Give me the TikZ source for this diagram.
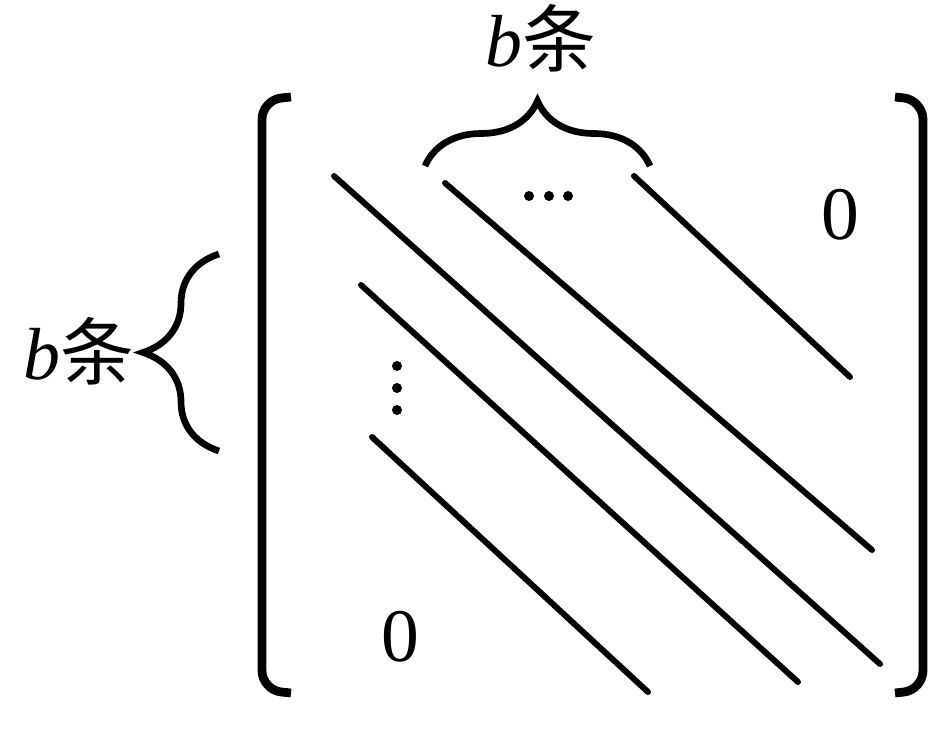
\documentclass[tikz,border=0pt]{standalone}
\usepackage{fontspec}
\setmainfont{Liberation Serif}
\newfontfamily\cjk{Noto Sans CJK SC}
\usetikzlibrary{positioning,decorations.pathreplacing}

\begin{document}
\begin{tikzpicture}[x=0.02cm, y=-0.02cm,
    band/.style={line width=3.4pt, line cap=round},
    bracket/.style={line width=5pt, rounded corners=11pt},
    countbrace/.style={decorate, decoration={brace, amplitude=#1}, line width=3.8pt},
    lbl/.style={font=\fontsize{42}{42}\selectfont, inner sep=0pt, anchor=base},
    zero/.style={font=\fontsize{43}{43}\selectfont, inner sep=0pt, anchor=base}]
  \useasboundingbox (0,0) rectangle (936,739);

  % the two square brackets
  \draw[bracket] (291,97) -- (262,100) -- (262,690) -- (291,693);
  \draw[bracket] (895,97) -- (923,100) -- (923,690) -- (895,693);

  % diagonal bands
  \draw[band] (334,176) -- (880,664);
  \draw[band] (445,183) -- (872,550);
  \draw[band] (634,176) -- (850,377);
  \draw[band] (361,285) -- (798,682);
  \draw[band] (372,437) -- (648,692);

  % dots
  \foreach \x in {529,549,568}
    \fill (\x,196) circle (5);
  \foreach \y in {366,388,410}
    \fill (397,\y) circle (5);

  % zeros
  \node[zero] (zeroup) at (840,240) {0};
  \node[zero] (zerolow) at (400,661) {0};

  % braces and their labels
  \coordinate (topa) at (425,166);
  \coordinate (topb) at (650,166);
  \draw[countbrace=1.3cm] (topa) -- (topb);
  \node[lbl] (toplabel) at (541,67) {\textit{b}{\cjk 条}};

  \coordinate (lefta) at (219,451);
  \coordinate (leftb) at (219,254);
  \draw[countbrace=1.52cm] (lefta) -- (leftb);
  \node[lbl] (leftlabel) at (79,380) {\textit{b}{\cjk 条}};
\end{tikzpicture}
\end{document}
